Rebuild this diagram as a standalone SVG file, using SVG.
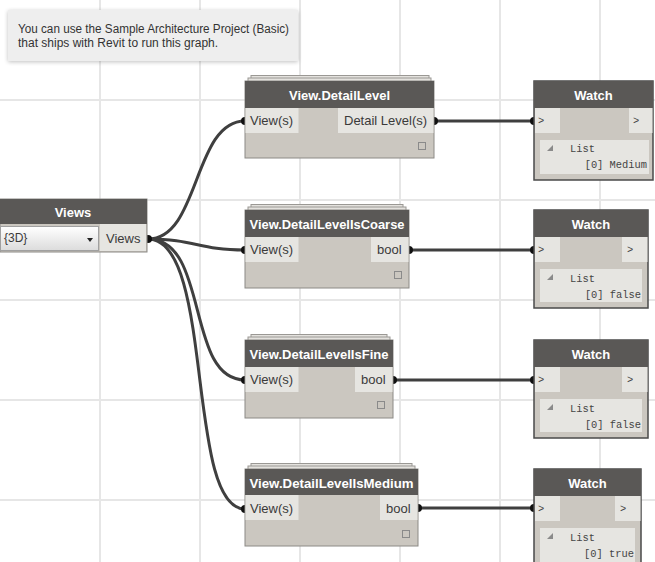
<svg xmlns="http://www.w3.org/2000/svg" width="655" height="562" viewBox="0 0 655 562">
<style>
.grid{stroke:#e6e6e6;stroke-width:2}
.hdr{fill:#5a5856}
.body{fill:#cbc7c0;stroke:#8c8a86;stroke-width:1}
.wbody{fill:#cbc7c0;stroke:#4a4a4a;stroke-width:1.5}
.port{fill:#e6e5e1}
.stack{fill:#e4e2de;stroke:#9a9894;stroke-width:1}
.ht{font-family:"Liberation Sans",Arial,sans-serif;font-size:13px;font-weight:bold;fill:#ffffff;text-anchor:middle}
.pt{font-family:"Liberation Sans",Arial,sans-serif;font-size:13px;fill:#3a3a3a}
.mono{font-family:"Liberation Mono","DejaVu Sans Mono",monospace;font-size:10.4px;fill:#444}
.icon{fill:none;stroke:#8a8a8a;stroke-width:1}
.wire{fill:none;stroke:#3f3f3f;stroke-width:3}
.dot{fill:#111}
.note{font-family:"Liberation Sans",Arial,sans-serif;font-size:12px;fill:#333}
</style>
<defs>
<linearGradient id="dd" x1="0" y1="0" x2="0" y2="1">
<stop offset="0" stop-color="#ffffff"/>
<stop offset="1" stop-color="#dcdcdc"/>
</linearGradient>
<filter id="sh" x="-10%" y="-20%" width="120%" height="150%">
<feGaussianBlur in="SourceAlpha" stdDeviation="2"/>
<feOffset dx="0" dy="1" result="b"/>
<feComponentTransfer><feFuncA type="linear" slope="0.25"/></feComponentTransfer>
<feMerge><feMergeNode/><feMergeNode in="SourceGraphic"/></feMerge>
</filter>
</defs>
<rect width="655" height="562" fill="#ffffff"/>
<g id="grid">
<line class="grid" x1="100" y1="0" x2="100" y2="562"/>
<line class="grid" x1="200" y1="0" x2="200" y2="562"/>
<line class="grid" x1="300" y1="0" x2="300" y2="562"/>
<line class="grid" x1="400" y1="0" x2="400" y2="562"/>
<line class="grid" x1="500" y1="0" x2="500" y2="562"/>
<line class="grid" x1="600" y1="0" x2="600" y2="562"/>
<line class="grid" x1="0" y1="100" x2="655" y2="100"/>
<line class="grid" x1="0" y1="200" x2="655" y2="200"/>
<line class="grid" x1="0" y1="300" x2="655" y2="300"/>
<line class="grid" x1="0" y1="400" x2="655" y2="400"/>
<line class="grid" x1="0" y1="500" x2="655" y2="500"/>
</g>
<g id="note">
<rect x="8" y="10" width="290" height="51" fill="#eeeeee" filter="url(#sh)"/>
<text class="note" x="18" y="33" textLength="271" lengthAdjust="spacingAndGlyphs">You can use the Sample Architecture Project (Basic)</text>
<text class="note" x="18" y="47">that ships with Revit to run this graph.</text>
</g>
<g id="connectors">
<path class="wire" d="M148 239 C200 239 193 121 245 121"/>
<path class="wire" d="M148 239 C195 239 198 250 245 250"/>
<path class="wire" d="M148 239 C210 239 185 380 245 380"/>
<path class="wire" d="M148 239 C215 239 185 509 245 509"/>
<path class="wire" d="M434 121 L534 121"/>
<path class="wire" d="M409 250 L534 250"/>
<path class="wire" d="M393 380 L534 380"/>
<path class="wire" d="M418 508 L534 508"/>
</g>
<g id="views">
<circle class="dot" cx="148" cy="239" r="4"/>
<rect x="0" y="199" width="147" height="53" fill="#cbc7c0" stroke="#8c8a86"/>
<rect class="hdr" x="0" y="199" width="147" height="25"/>
<text class="ht" x="73" y="217">Views</text>
<rect x="0.5" y="226.5" width="98" height="24" fill="url(#dd)" stroke="#a0a0a0"/>
<text class="pt" x="4" y="242" style="font-size:12px">{3D}</text>
<polygon points="87,238 93,238 90,242" fill="#222"/>
<rect class="port" x="100" y="224" width="46" height="27"/>
<text class="pt" x="106" y="243">Views</text>
</g>
<g id="detail-level">
<rect class="stack" x="251" y="75.5" width="178" height="8"/>
<rect class="stack" x="248" y="78" width="183" height="8"/>
<circle class="dot" cx="245" cy="121" r="4"/>
<circle class="dot" cx="434" cy="121" r="4"/>
<rect class="body" x="245" y="81" width="189" height="77"/>
<rect class="hdr" x="245" y="81" width="189" height="27"/>
<text class="ht" x="339.5" y="100" textLength="101" lengthAdjust="spacingAndGlyphs">View.DetailLevel</text>
<rect class="port" x="245.5" y="108" width="53" height="25"/>
<text class="pt" x="250" y="125">View(s)</text>
<rect class="port" x="338" y="108" width="95.5" height="25"/>
<text class="pt" x="344" y="125">Detail Level(s)</text>
<rect class="icon" x="418.5" y="142.5" width="7" height="7"/>
</g>
<g id="detail-coarse">
<rect class="stack" x="251" y="204.5" width="152" height="8"/>
<rect class="stack" x="248" y="207" width="158" height="8"/>
<circle class="dot" cx="245" cy="250" r="4"/>
<circle class="dot" cx="409" cy="250" r="4"/>
<rect class="body" x="245" y="210" width="164" height="78"/>
<rect class="hdr" x="245" y="210" width="164" height="27"/>
<text class="ht" x="327" y="229" textLength="155" lengthAdjust="spacingAndGlyphs">View.DetailLevelIsCoarse</text>
<rect class="port" x="245.5" y="237" width="53" height="25"/>
<text class="pt" x="250" y="254">View(s)</text>
<rect class="port" x="371" y="237" width="37.5" height="25"/>
<text class="pt" x="377" y="254">bool</text>
<rect class="icon" x="394.5" y="271.5" width="7" height="7"/>
</g>
<g id="detail-fine">
<rect class="stack" x="251" y="334.5" width="136" height="8"/>
<rect class="stack" x="248" y="337" width="142" height="8"/>
<circle class="dot" cx="245" cy="380" r="4"/>
<circle class="dot" cx="393" cy="380" r="4"/>
<rect class="body" x="245" y="340" width="148" height="78"/>
<rect class="hdr" x="245" y="340" width="148" height="27"/>
<text class="ht" x="319" y="359" textLength="139" lengthAdjust="spacingAndGlyphs">View.DetailLevelIsFine</text>
<rect class="port" x="245.5" y="367" width="53" height="25"/>
<text class="pt" x="250" y="384">View(s)</text>
<rect class="port" x="355" y="367" width="37.5" height="25"/>
<text class="pt" x="361" y="384">bool</text>
<rect class="icon" x="377.5" y="401.5" width="7" height="7"/>
</g>
<g id="detail-medium">
<rect class="stack" x="251" y="463.5" width="161" height="8"/>
<rect class="stack" x="248" y="466" width="167" height="8"/>
<circle class="dot" cx="245" cy="509" r="4"/>
<circle class="dot" cx="418" cy="508" r="4"/>
<rect class="body" x="245" y="469" width="173" height="77"/>
<rect class="hdr" x="245" y="469" width="173" height="26"/>
<text class="ht" x="331.5" y="488" textLength="164" lengthAdjust="spacingAndGlyphs">View.DetailLevelIsMedium</text>
<rect class="port" x="245.5" y="495" width="53" height="25"/>
<text class="pt" x="250" y="513">View(s)</text>
<rect class="port" x="380" y="495" width="37.5" height="25"/>
<text class="pt" x="386" y="513">bool</text>
<rect class="icon" x="402.5" y="530.5" width="7" height="7"/>
</g>
<g id="watch1">
<circle class="dot" cx="534" cy="121" r="4"/>
<rect class="wbody" x="534" y="81" width="119" height="99"/>
<rect class="hdr" x="534" y="81" width="119" height="27"/>
<text class="ht" x="593.5" y="100">Watch</text>
<rect class="port" x="535" y="108" width="25" height="25"/>
<text class="mono" x="538" y="124">&gt;</text>
<rect class="port" x="629" y="108" width="23.5" height="25"/>
<text class="mono" x="633" y="124">&gt;</text>
<rect class="port" x="540" y="140" width="109" height="34"/>
<polygon points="553,145 553,151 547,151" fill="#8a8a8a"/>
<text class="mono" x="570" y="152">List</text>
<text class="mono" x="647" y="168" text-anchor="end">[0] Medium</text>
</g>
<g id="watch2">
<circle class="dot" cx="534" cy="250" r="4"/>
<rect class="wbody" x="534" y="210" width="114" height="98"/>
<rect class="hdr" x="534" y="210" width="114" height="27"/>
<text class="ht" x="591" y="229">Watch</text>
<rect class="port" x="535" y="237" width="25" height="25"/>
<text class="mono" x="538" y="253">&gt;</text>
<rect class="port" x="622" y="237" width="25.5" height="25"/>
<text class="mono" x="627" y="253">&gt;</text>
<rect class="port" x="540" y="269" width="102" height="33"/>
<polygon points="553,274 553,280 547,280" fill="#8a8a8a"/>
<text class="mono" x="570" y="282">List</text>
<text class="mono" x="641" y="298" text-anchor="end">[0] false</text>
</g>
<g id="watch3">
<circle class="dot" cx="534" cy="380" r="4"/>
<rect class="wbody" x="534" y="340" width="114" height="98"/>
<rect class="hdr" x="534" y="340" width="114" height="27"/>
<text class="ht" x="591" y="359">Watch</text>
<rect class="port" x="535" y="367" width="25" height="25"/>
<text class="mono" x="538" y="383">&gt;</text>
<rect class="port" x="622" y="367" width="25.5" height="25"/>
<text class="mono" x="627" y="383">&gt;</text>
<rect class="port" x="540" y="399" width="102" height="33"/>
<polygon points="553,404 553,410 547,410" fill="#8a8a8a"/>
<text class="mono" x="570" y="412">List</text>
<text class="mono" x="641" y="428" text-anchor="end">[0] false</text>
</g>
<g id="watch4">
<circle class="dot" cx="534" cy="508" r="4"/>
<rect class="wbody" x="534" y="469" width="107" height="100"/>
<rect class="hdr" x="534" y="469" width="107" height="27"/>
<text class="ht" x="587.5" y="488">Watch</text>
<rect class="port" x="535" y="496" width="25" height="25"/>
<text class="mono" x="538" y="512">&gt;</text>
<rect class="port" x="615" y="496" width="25.5" height="25"/>
<text class="mono" x="620" y="512">&gt;</text>
<rect class="port" x="540" y="528" width="95" height="40"/>
<polygon points="553,533 553,539 547,539" fill="#8a8a8a"/>
<text class="mono" x="570" y="541">List</text>
<text class="mono" x="634" y="557" text-anchor="end">[0] true</text>
</g>
</svg>
